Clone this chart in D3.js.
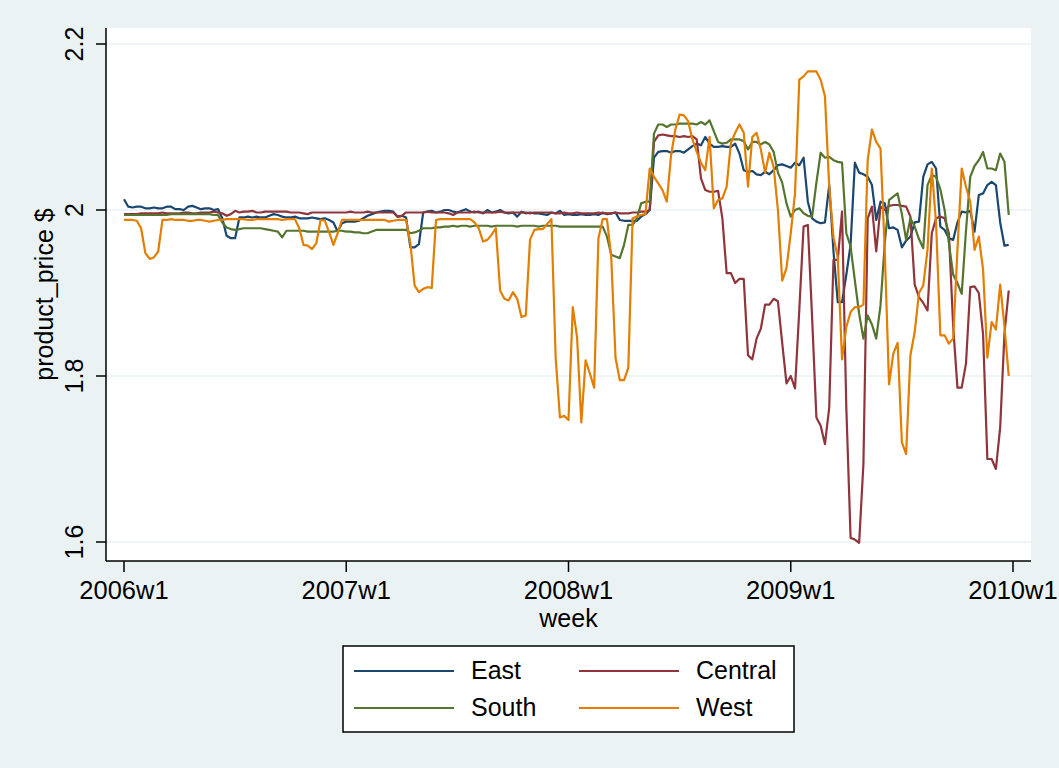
<!DOCTYPE html>
<html>
<head>
    <meta charset="utf-8">
    <script src="https://d3js.org/d3.v7.min.js"></script>
    <style>
        body { margin: 0; background: #eaf2f3; }
        text { font-family: "Liberation Sans", Arial, sans-serif; fill: #000; }
    </style>
</head>

<body></body>

<script>
    // weekly prices, 2006w1 .. 2009w52 (one value per week)
    let east = [
        2.013,2.004,2.003,2.004,2.004,2.002,2.002,2.003,2.002,2.002,
        2.004,2.004,2.001,2.001,2.000,2.004,2.005,2.003,2.001,2.002,
        2.002,2.000,2.001,1.990,1.969,1.966,1.966,1.991,1.991,1.992,
        1.991,1.992,1.991,1.991,1.993,1.995,1.994,1.992,1.991,1.991,
        1.992,1.990,1.990,1.990,1.991,1.990,1.989,1.990,1.988,1.985,
        1.974,1.984,1.986,1.986,1.986,1.987,1.990,1.993,1.995,1.997,
        1.998,1.999,1.999,1.998,1.992,1.993,1.991,1.955,1.955,1.959,
        1.997,1.998,1.999,1.997,1.998,2.000,2.000,1.998,1.997,1.999,
        2.001,1.998,1.997,1.998,1.996,2.000,1.997,1.998,2.000,1.997,
        1.996,1.997,1.992,1.998,1.996,1.997,1.996,1.996,1.995,1.994,
        1.997,1.996,1.999,1.994,1.995,1.994,1.994,1.995,1.994,1.994,
        1.995,1.994,1.997,1.995,1.996,1.997,1.988,1.987,1.987,1.987,
        1.987,1.992,1.995,2.000,2.063,2.070,2.071,2.071,2.069,2.071,
        2.071,2.069,2.073,2.077,2.080,2.078,2.088,2.080,2.076,2.076,
        2.077,2.076,2.076,2.080,2.068,2.048,2.046,2.047,2.043,2.042,
        2.046,2.043,2.048,2.054,2.055,2.053,2.051,2.057,2.054,2.063,
        2.010,1.990,1.986,1.984,1.985,2.030,1.950,1.889,1.889,1.922,
        1.958,2.057,2.045,2.043,2.040,2.030,1.988,2.010,2.008,1.978,
        1.979,1.976,1.955,1.963,1.968,1.985,1.986,2.040,2.055,2.058,
        2.050,1.980,1.976,1.966,1.964,1.985,1.998,1.997,1.999,1.974,
        2.018,2.020,2.030,2.034,2.030,1.985,1.957,1.958];

    let central = [
        1.995,1.995,1.995,1.995,1.996,1.996,1.996,1.996,1.996,1.997,
        1.996,1.996,1.996,1.996,1.997,1.997,1.996,1.996,1.997,1.997,
        1.997,1.998,1.997,1.996,1.993,1.995,1.999,1.997,1.998,1.998,
        1.999,1.997,1.997,1.998,1.998,1.998,1.998,1.998,1.998,1.997,
        1.997,1.997,1.996,1.995,1.997,1.997,1.997,1.997,1.997,1.997,
        1.997,1.997,1.997,1.998,1.997,1.997,1.997,1.998,1.997,1.997,
        1.997,1.997,1.997,1.997,1.992,1.993,1.997,1.997,1.997,1.997,
        1.997,1.998,1.997,1.997,1.997,1.997,1.996,1.994,1.997,1.997,
        1.997,1.997,1.998,1.997,1.997,1.997,1.997,1.997,1.998,1.997,
        1.997,1.997,1.997,1.997,1.997,1.996,1.997,1.997,1.997,1.997,
        1.997,1.996,1.996,1.997,1.996,1.996,1.997,1.996,1.996,1.996,
        1.996,1.997,1.996,1.996,1.996,1.997,1.996,1.996,1.996,1.997,
        1.997,1.998,1.998,2.000,2.082,2.090,2.091,2.090,2.089,2.089,
        2.088,2.089,2.088,2.089,2.085,2.038,2.024,2.022,2.022,2.023,
        1.990,1.924,1.924,1.912,1.917,1.917,1.825,1.820,1.845,1.857,
        1.886,1.886,1.893,1.890,1.840,1.791,1.800,1.785,1.880,1.980,
        1.982,1.870,1.750,1.740,1.718,1.762,1.940,1.940,1.998,1.762,
        1.605,1.603,1.599,1.694,1.990,2.004,1.950,2.004,2.000,2.005,
        2.006,2.006,2.005,2.004,1.992,1.910,1.895,1.888,1.879,1.972,
        1.990,1.992,1.990,1.972,1.860,1.786,1.786,1.815,1.907,1.908,
        1.900,1.850,1.700,1.700,1.688,1.738,1.851,1.903];

    let south = [
        1.994,1.994,1.994,1.994,1.994,1.994,1.994,1.994,1.994,1.994,
        1.994,1.995,1.995,1.995,1.995,1.995,1.995,1.995,1.995,1.995,
        1.995,1.994,1.994,1.985,1.979,1.977,1.976,1.977,1.978,1.978,
        1.978,1.978,1.978,1.977,1.976,1.975,1.974,1.967,1.975,1.975,
        1.975,1.975,1.975,1.974,1.974,1.974,1.974,1.974,1.974,1.974,
        1.975,1.975,1.974,1.974,1.973,1.973,1.972,1.972,1.974,1.976,
        1.976,1.976,1.976,1.976,1.976,1.976,1.976,1.972,1.973,1.975,
        1.978,1.978,1.978,1.979,1.979,1.980,1.980,1.981,1.980,1.981,
        1.981,1.980,1.981,1.981,1.981,1.981,1.980,1.981,1.981,1.981,
        1.981,1.981,1.980,1.981,1.981,1.981,1.981,1.980,1.981,1.981,
        1.981,1.981,1.980,1.980,1.980,1.980,1.980,1.980,1.980,1.980,
        1.980,1.980,1.980,1.968,1.946,1.944,1.942,1.958,1.982,1.982,
        1.990,2.008,2.010,2.010,2.092,2.103,2.103,2.100,2.103,2.103,
        2.104,2.104,2.104,2.104,2.103,2.106,2.103,2.108,2.095,2.082,
        2.080,2.081,2.085,2.085,2.085,2.083,2.073,2.082,2.082,2.079,
        2.082,2.079,2.070,2.045,2.033,2.008,1.992,2.000,2.002,1.996,
        1.993,1.992,2.033,2.069,2.063,2.064,2.060,2.058,2.057,1.972,
        1.956,1.915,1.875,1.845,1.873,1.862,1.845,1.885,1.960,2.012,
        2.016,2.020,1.995,1.964,1.990,1.980,1.965,1.954,2.030,2.042,
        2.040,2.025,2.000,1.960,1.922,1.912,1.899,1.975,2.040,2.053,
        2.060,2.070,2.050,2.050,2.048,2.068,2.058,1.994];

    let west = [
        1.988,1.988,1.988,1.987,1.978,1.948,1.941,1.943,1.950,1.988,
        1.988,1.989,1.988,1.988,1.988,1.987,1.987,1.988,1.988,1.987,
        1.986,1.987,1.988,1.988,1.989,1.989,1.989,1.989,1.989,1.988,
        1.988,1.989,1.989,1.989,1.989,1.989,1.989,1.988,1.989,1.989,
        1.989,1.978,1.958,1.957,1.953,1.960,1.988,1.987,1.973,1.958,
        1.972,1.988,1.988,1.988,1.988,1.988,1.988,1.988,1.988,1.988,
        1.988,1.988,1.986,1.987,1.988,1.988,1.988,1.960,1.909,1.901,
        1.905,1.907,1.906,1.988,1.989,1.989,1.989,1.989,1.989,1.989,
        1.989,1.989,1.985,1.978,1.962,1.964,1.970,1.978,1.903,1.893,
        1.891,1.901,1.893,1.871,1.873,1.964,1.976,1.977,1.977,1.983,
        1.989,1.822,1.750,1.752,1.747,1.883,1.847,1.744,1.819,1.803,
        1.786,1.966,1.989,1.989,1.943,1.822,1.795,1.795,1.810,1.990,
        1.992,1.994,1.995,2.050,2.040,2.032,2.024,2.010,2.066,2.097,
        2.115,2.114,2.107,2.085,2.070,2.057,2.048,2.088,2.002,2.012,
        2.014,2.028,2.081,2.093,2.103,2.093,2.028,2.088,2.093,2.073,
        2.045,2.069,2.052,2.000,1.915,1.930,1.972,2.020,2.157,2.161,
        2.167,2.167,2.167,2.157,2.137,2.028,1.967,1.943,1.820,1.859,
        1.877,1.883,1.883,1.886,2.060,2.097,2.082,2.074,1.950,1.790,
        1.827,1.840,1.720,1.706,1.825,1.853,1.900,1.909,1.952,2.050,
        1.984,1.849,1.849,1.839,1.845,1.952,2.050,2.028,2.010,1.952,
        1.968,1.928,1.822,1.865,1.856,1.910,1.860,1.800];

    let xTickWeeks = [0, 52, 104, 156, 208];
    let xTickLabels = ["2006w1", "2007w1", "2008w1", "2009w1", "2010w1"];
    let yTicks = [1.6, 1.8, 2, 2.2];
    let yTickLabels = ["1.6", "1.8", "2", "2.2"];

    let seriesNames = ["East", "Central", "South", "West"];
    let seriesValues = [east, central, south, west];
    let colors = ["#1a476f", "#90353b", "#55752f", "#e37e00"];

    var width = 1059, height = 768;
    var plot = {left: 106, right: 1031, top: 28, bottom: 561};

    var svg = d3.select("body").append("svg")
        .attr("width", width)
        .attr("height", height);

    svg.append("rect")
        .attr("width", width).attr("height", height)
        .attr("fill", "#eaf2f3");

    svg.append("rect")
        .attr("x", plot.left).attr("y", plot.top)
        .attr("width", plot.right - plot.left)
        .attr("height", plot.bottom - plot.top)
        .attr("fill", "#fff");

    let x = d3.scaleLinear().domain([0, 208]).range([124, 1013]);
    let y = d3.scaleLinear().domain([1.6, 2.2]).range([542, 44]);

    // grid lines
    svg.selectAll(".grid").data(yTicks).enter()
        .append("line")
            .attr("x1", plot.left).attr("x2", plot.right)
            .attr("y1", d => y(d)).attr("y2", d => y(d))
            .attr("stroke", "#eaf2f3")
            .attr("stroke-width", 1.5);

    // series
    let line = d3.line()
        .x((d, i) => x(i))
        .y(d => y(d));

    // draw order as Stata: East first, West last
    seriesValues.forEach(function(vals, k) {
        svg.append("path")
            .datum(vals)
            .attr("d", line)
            .attr("fill", "none")
            .attr("stroke", colors[k])
            .attr("stroke-width", 2.2)
            .attr("stroke-linejoin", "round");
    });

    // y axis
    svg.append("line")
        .attr("x1", plot.left).attr("x2", plot.left)
        .attr("y1", plot.top).attr("y2", plot.bottom)
        .attr("stroke", "#000").attr("stroke-width", 1.5);

    svg.selectAll(".ytick").data(yTicks).enter()
        .append("line")
            .attr("x1", plot.left - 10).attr("x2", plot.left)
            .attr("y1", d => y(d)).attr("y2", d => y(d))
            .attr("stroke", "#000").attr("stroke-width", 1.5);

    svg.selectAll(".ylab").data(yTicks).enter()
        .append("text")
            .attr("transform", d => "translate(83," + y(d) + ") rotate(-90)")
            .attr("text-anchor", "middle")
            .style("font-size", "25px")
            .text((d, i) => yTickLabels[i]);

    svg.append("text")
        .attr("transform", "translate(53," + ((plot.top + plot.bottom) / 2) + ") rotate(-90)")
        .attr("text-anchor", "middle")
        .style("font-size", "25px")
        .text("product_price $");

    // x axis
    svg.append("line")
        .attr("x1", plot.left).attr("x2", plot.right)
        .attr("y1", plot.bottom).attr("y2", plot.bottom)
        .attr("stroke", "#000").attr("stroke-width", 1.5);

    svg.selectAll(".xtick").data(xTickWeeks).enter()
        .append("line")
            .attr("x1", d => x(d)).attr("x2", d => x(d))
            .attr("y1", plot.bottom).attr("y2", plot.bottom + 11)
            .attr("stroke", "#000").attr("stroke-width", 1.5);

    svg.selectAll(".xlab").data(xTickWeeks).enter()
        .append("text")
            .attr("x", d => x(d))
            .attr("y", 599)
            .attr("text-anchor", "middle")
            .style("font-size", "25.5px")
            .text((d, i) => xTickLabels[i]);

    svg.append("text")
        .attr("x", x(104))
        .attr("y", 627)
        .attr("text-anchor", "middle")
        .style("font-size", "25px")
        .text("week");

    // legend
    var legend = svg.append("g");
    legend.append("rect")
        .attr("x", 343).attr("y", 646)
        .attr("width", 451).attr("height", 86)
        .attr("fill", "#fff")
        .attr("stroke", "#000").attr("stroke-width", 1.5);

    seriesNames.forEach(function(name, k) {
        let col = k % 2, row = Math.floor(k / 2);
        let lx = 354 + col * 225, ly = 671 + row * 37;
        legend.append("line")
            .attr("x1", lx).attr("x2", lx + 100)
            .attr("y1", ly).attr("y2", ly)
            .attr("stroke", colors[k]).attr("stroke-width", 2.2);
        legend.append("text")
            .attr("x", lx + 117)
            .attr("y", ly + 8)
            .style("font-size", "25px")
            .text(name);
    });
</script>
</html>
